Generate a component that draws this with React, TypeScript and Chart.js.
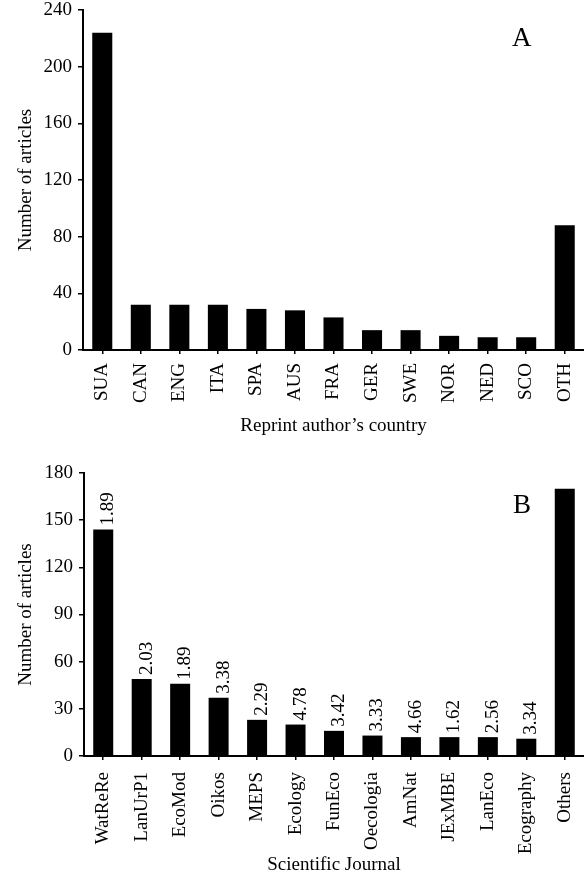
import React, { useEffect, useRef } from "react";
import { Chart, registerables } from "chart.js";

Chart.register(...registerables);

const FONT = "'Liberation Serif', 'DejaVu Serif', 'Times New Roman', serif";

// Panel A: reprint author's country
const countries = ["SUA", "CAN", "ENG", "ITA", "SPA", "AUS", "FRA", "GER", "SWE", "NOR", "NED", "SCO", "OTH"];
const countryArticles = [224, 32, 32, 32, 29, 28, 23, 14, 14, 10, 9, 9, 88];
const countryTicks = [0, 40, 80, 120, 160, 200, 240];

// Panel B: scientific journal
const journals = ["WatReRe", "LanUrP1", "EcoMod", "Oikos", "MEPS", "Ecology", "FunEco", "Oecologia", "AmNat", "JExMBE", "LanEco", "Ecography", "Others"];
const journalArticles = [144, 49, 46, 37, 23, 20, 16, 13, 12, 12, 12, 11, 170];
const impactFactors = ["1.89", "2.03", "1.89", "3.38", "2.29", "4.78", "3.42", "3.33", "4.66", "1.62", "2.56", "3.34", ""];
const journalTicks = [0, 30, 60, 90, 120, 150, 180];

type Opts = {
  padTop: number;
  xHeight: number;
  yWidth: number;
  xPad: number;
  xTitlePad: number;
  letter: string;
  letterX: number;
  letterY: number;
  barLabels?: string[];
};

function makeConfig(labels: string[], values: number[], yTicks: number[], xTitle: string, o: Opts): any {
  const tickFont = { family: FONT, size: 19, lineHeight: 1 };
  const titleFont = { family: FONT, size: 19, lineHeight: 1.2 };
  const plugins: any[] = [
    {
      id: "panelLetter",
      afterDraw(chart: any) {
        const ctx = chart.ctx;
        ctx.save();
        ctx.font = `27px ${FONT}`;
        ctx.fillStyle = "#000";
        ctx.textAlign = "left";
        ctx.textBaseline = "alphabetic";
        ctx.fillText(o.letter, o.letterX, o.letterY);
        ctx.restore();
      },
    },
  ];
  if (o.barLabels) {
    const bl = o.barLabels;
    plugins.push({
      id: "valueLabels",
      afterDatasetsDraw(chart: any) {
        const meta = chart.getDatasetMeta(0);
        const ctx = chart.ctx;
        ctx.save();
        ctx.font = `19px ${FONT}`;
        ctx.fillStyle = "#000";
        ctx.textAlign = "left";
        ctx.textBaseline = "middle";
        meta.data.forEach((bar: any, i: number) => {
          const t = bl[i];
          if (!t) return;
          ctx.save();
          ctx.translate(bar.x + 5, bar.y - 4);
          ctx.rotate(-Math.PI / 2);
          ctx.fillText(t, 0, 0);
          ctx.restore();
        });
        ctx.restore();
      },
    });
  }
  return {
    type: "bar",
    data: {
      labels,
      datasets: [
        {
          data: values,
          backgroundColor: "#000",
          borderWidth: 0,
          barPercentage: 0.52,
          categoryPercentage: 1,
        },
      ],
    },
    options: {
      responsive: false,
      animation: false,
      devicePixelRatio: 1,
      layout: { padding: { top: o.padTop, left: 0, right: 0, bottom: 0 } },
      plugins: { legend: { display: false }, tooltip: { enabled: false } },
      scales: {
        x: {
          offset: true,
          grid: {
            display: true,
            drawOnChartArea: false,
            drawTicks: true,
            tickLength: 4,
            color: "#000",
            lineWidth: 1.5,
            offset: false,
          },
          border: { display: true, color: "#000", width: 2 },
          ticks: {
            autoSkip: false,
            maxRotation: 90,
            minRotation: 90,
            padding: o.xPad,
            color: "#000",
            font: tickFont,
          },
          title: {
            display: true,
            text: xTitle,
            color: "#000",
            font: titleFont,
            padding: { top: 0, bottom: o.xTitlePad },
          },
          afterFit(scale: any) {
            scale.height = o.xHeight;
            scale.paddingLeft = 0;
            scale.paddingRight = 0;
          },
        },
        y: {
          min: yTicks[0],
          max: yTicks[yTicks.length - 1],
          ticks: {
            stepSize: yTicks[1] - yTicks[0],
            padding: 6,
            color: "#000",
            font: tickFont,
          },
          grid: {
            display: true,
            drawOnChartArea: false,
            drawTicks: true,
            tickLength: 5,
            color: "#000",
            lineWidth: 1.5,
          },
          border: { display: true, color: "#000", width: 2 },
          title: {
            display: true,
            text: "Number of articles",
            color: "#000",
            font: titleFont,
            padding: { top: 15, bottom: 0 },
          },
          afterFit(scale: any) {
            scale.width = o.yWidth;
            scale.paddingTop = 0;
            scale.paddingBottom = 0;
          },
        },
      },
    },
    plugins,
  };
}

export default function App() {
  const topRef = useRef<HTMLCanvasElement | null>(null);
  const botRef = useRef<HTMLCanvasElement | null>(null);

  useEffect(() => {
    const charts: Chart[] = [];
    if (topRef.current) {
      charts.push(
        new Chart(
          topRef.current,
          makeConfig(countries, countryArticles, countryTicks, "Reprint author\u2019s country", {
            padTop: 10,
            xHeight: 90,
            yWidth: 83,
            xPad: 9,
            xTitlePad: 3,
            letter: "A",
            letterX: 512,
            letterY: 46,
          })
        )
      );
    }
    if (botRef.current) {
      charts.push(
        new Chart(
          botRef.current,
          makeConfig(journals, journalArticles, journalTicks, "Scientific Journal", {
            padTop: 33,
            xHeight: 122,
            yWidth: 84,
            xPad: 12,
            xTitlePad: 2,
            letter: "B",
            letterX: 513,
            letterY: 73,
            barLabels: impactFactors,
          })
        )
      );
    }
    return () => charts.forEach((c) => c.destroy());
  }, []);

  return (
    <div
      style={{
        position: "absolute",
        left: 0,
        top: 0,
        width: 584,
        height: 878,
        overflow: "hidden",
        background: "#fff",
      }}
    >
      <canvas ref={topRef} width={584} height={440} style={{ display: "block", width: 584, height: 440 }} />
      <canvas ref={botRef} width={584} height={438} style={{ display: "block", width: 584, height: 438 }} />
    </div>
  );
}
